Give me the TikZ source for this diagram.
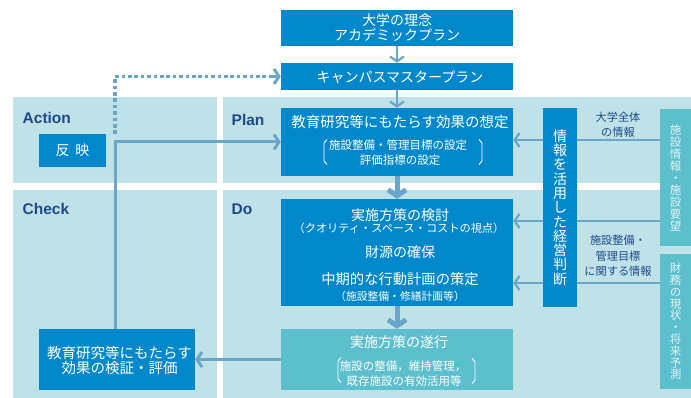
\documentclass[tikz,border=0pt]{standalone}
\usepackage{fontspec}
\newfontfamily\jp{Noto Sans CJK JP}
\newfontfamily\lat{Liberation Sans}
\usetikzlibrary{arrows.meta}
\definecolor{boxblue}{HTML}{0088CB}
\definecolor{lightbg}{HTML}{BFE1E8}
\definecolor{tealbox}{HTML}{5CBFCD}
\definecolor{arrowc}{HTML}{6BA5C8}
\definecolor{navy}{HTML}{1F4A8A}
\definecolor{sidetext}{HTML}{E4F4F6}
\begin{document}
\begin{tikzpicture}[x=1pt,y=-1pt,
  bbox/.style={fill=boxblue, draw=none, inner sep=0pt},
  tbox/.style={fill=tealbox, draw=none, inner sep=0pt},
  tbig/.style={font=\jp\fontsize{14}{16}\selectfont, text=white, inner sep=0pt},
  tsmall/.style={font=\jp\fontsize{11.5}{13}\selectfont, text=white, inner sep=0pt},
  lab/.style={font=\lat\bfseries\fontsize{15.5}{15.5}\selectfont, text=navy, inner sep=0pt, anchor=west},
  sidelab/.style={font=\jp\fontsize{11.2}{15.5}\selectfont, text=navy, inner sep=0pt, align=center},
  arrthin/.style={draw=arrowc, line width=2.2pt, -{Straight Barb[length=5pt,width=14pt]}},
  arrmed/.style={draw=arrowc, line width=3pt, -{Straight Barb[length=5pt,width=15pt]}},
  arrthick/.style={draw=arrowc, line width=5pt, -{Straight Barb[length=6pt,width=18pt]}},
  plainline/.style={draw=arrowc, line width=2.2pt},
  dotline/.style={draw=arrowc, line width=3.6pt, dash pattern=on 3.6pt off 2.8pt},
  brk/.style={draw=white, line width=0.9pt}
]
\useasboundingbox (0,0) rectangle (691,398);
\fill[white] (0,0) rectangle (691,398);
% panels
\fill[lightbg] (13,97) rectangle (217,183);
\fill[lightbg] (223,97) rectangle (691,183);
\fill[lightbg] (13,190) rectangle (217,398);
\fill[lightbg] (223,190) rectangle (691,398);

% boxes
\node[bbox, minimum width=232, minimum height=36] (b1) at (397,28) {};
\node[bbox, minimum width=232, minimum height=27] (b2) at (397,76.5) {};
\node[bbox, minimum width=232, minimum height=68] (plan) at (397,142) {};
\node[bbox, minimum width=232, minimum height=107] (do) at (397,252.5) {};
\node[tbox, minimum width=232, minimum height=61] (exec) at (397,359.5) {};
\node[bbox, minimum width=156, minimum height=61] (check) at (117,359.5) {};
\node[bbox, minimum width=67, minimum height=33, tbig] (hanei) at (72.5,150.5) {反\hspace{6pt}映};
\node[bbox, minimum width=34, minimum height=198, align=center, text=white,
      font=\jp\fontsize{14}{14.3}\selectfont] (keiei) at (560,207.5)
      {情\\報\\を\\活\\用\\し\\た\\経\\営\\判\\断};
\node[tbox, minimum width=31, minimum height=137, align=center, text=sidetext,
      font=\jp\fontsize{11.5}{12}\selectfont] (info1) at (675.5,177.5)
      {施\\設\\情\\報\\・\\施\\設\\要\\望};
\node[tbox, minimum width=31, minimum height=135, align=center, text=sidetext,
      font=\jp\fontsize{11.5}{11.8}\selectfont] (fin) at (675.5,321.5)
      {財\\務\\の\\現\\状\\・\\将\\来\\予\\測};

% texts in boxes
\node[tbig] (b1t1) at (397,20) {大学の理念};
\node[tbig] (b1t2) at (397,35.5) {アカデミックプラン};
\node[tbig] (b2t) at (400,77) {キャンパスマスタープラン};
\node[tbig, font=\jp\fontsize{14.5}{16}\selectfont] (plant1) at (400,121.5) {教育研究等にもたらす効果の想定};
\node[tsmall] (plant2) at (398,145) {施設整備・管理目標の設定};
\node[tsmall] (plant3) at (400,160.5) {評価指標の設定};
\node[tbig] (dot1) at (400,215) {実施方策の検討};
\node[tsmall, font=\jp\fontsize{11.2}{13}\selectfont] (dot2) at (399,228.5) {（クオリティ・スペース・コストの視点）};
\node[tbig] (dot3) at (400,252.5) {財源の確保};
\node[tbig, font=\jp\fontsize{14.3}{16}\selectfont] (dot4) at (400,279) {中期的な行動計画の策定};
\node[tsmall, font=\jp\fontsize{10.8}{13}\selectfont] (dot5) at (400,296.5) {（施設整備・修繕計画等）};
\node[tbig] (ext1) at (399,342.5) {実施方策の遂行};
\node[tsmall] (ext2) at (403,366) {施設の整備，維持管理，};
\node[tsmall] (ext3) at (404,381) {既存施設の有効活用等};
\node[tbig, font=\jp\fontsize{14.5}{16}\selectfont] (cht1) at (119.5,352.5) {教育研究等にもたらす};
\node[tbig, font=\jp\fontsize{14.5}{16}\selectfont] (cht2) at (119.5,368) {効果の検証・評価};

% brackets
\draw[brk] (327,139.5) -- (324,143) -- (324,161) -- (327,164.5);
\draw[brk] (479,139.5) -- (482,143) -- (482,161) -- (479,164.5);
\draw[brk] (341,357.5) -- (338,361) -- (338,379) -- (341,382.5);
\draw[brk] (472,358.5) -- (475,362) -- (475,380) -- (472,383.5);

% panel labels
\node[lab] (lAction) at (22.5,118) {Action};
\node[lab] (lPlan) at (231.5,120) {Plan};
\node[lab] (lCheck) at (22.5,209) {Check};
\node[lab] (lDo) at (231.5,209) {Do};

% side labels
\node[sidelab] (sl1) at (618,124.5) {大学全体\\の情報};
\node[sidelab] (sl2) at (618,256) {施設整備・\\管理目標\\に関する情報};

% connectors
\draw[arrthin] (b1.south) -- (b2.north);
\draw[arrthin] (b2.south) -- (plan.north);
\draw[arrthick] (plan.south) -- (do.north);
\draw[arrthick] (do.south) -- (exec.north);
\draw[arrmed] (exec.west) -- (check.east);
\draw[arrmed] ([xshift=-2pt]check.north) |- (plan.west);
\coordinate (dotstart) at (115,134);
\draw[dotline] (dotstart) |- ([xshift=-8pt]b2.west);
\draw[arrmed] ([xshift=-9pt]b2.west) -- (b2.west);

\coordinate (ry1) at (0,140);
\coordinate (ry2) at (0,221);
\coordinate (ry3) at (0,283);
\draw[plainline] (info1.west |- ry1) -- (keiei.east |- ry1);
\draw[arrthin] (keiei.west |- ry1) -- (plan.east |- ry1);
\draw[plainline] (info1.west |- ry2) -- (keiei.east |- ry2);
\draw[arrthin] (keiei.west |- ry2) -- (do.east |- ry2);
\draw[plainline] (fin.west |- ry3) -- (keiei.east |- ry3);
\draw[arrthin] (keiei.west |- ry3) -- (do.east |- ry3);
\end{tikzpicture}
\end{document}
